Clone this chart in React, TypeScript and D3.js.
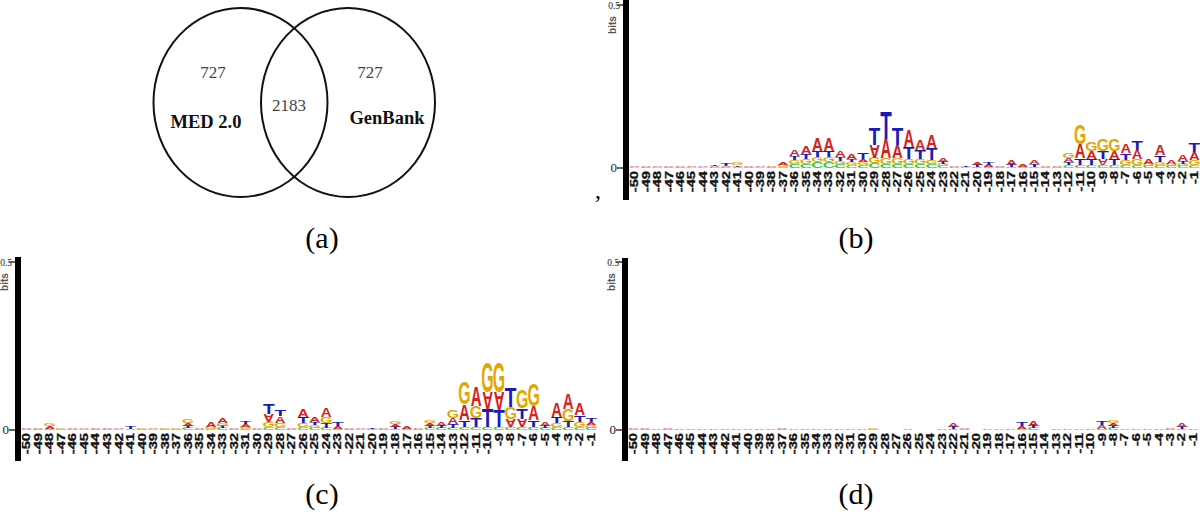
import React from 'react';
import * as d3 from 'd3';

// ---------- Venn data ----------
const VENN_SETS = ['MED 2.0', 'GenBank'];
const VENN_COUNTS = [727, 2183, 727]; // only-left, both, only-right

// ---------- Logo data ----------
const POSITIONS = [-50, -49, -48, -47, -46, -45, -44, -43, -42, -41, -40, -39, -38, -37, -36, -35, -34, -33, -32, -31, -30, -29, -28, -27, -26, -25, -24, -23, -22, -21, -20, -19, -18, -17, -16, -15, -14, -13, -12, -11, -10, -9, -8, -7, -6, -5, -4, -3, -2, -1];
const Y_TICKS = [0, 0.5];
const PANEL_LABELS = ['(a)', '(b)', '(c)', '(d)'];

// each entry: letters from bottom to top, value in millibits; lowercase = upside-down letter
const LOGO_B = [
  'G2 A3', 'C2 A3', 'G2 A3', 'C2 A2', 'C2 A2', 'G2 A3', 'G2 A4', 'C2 A3 T3', 'C2 A3 T9', 'A3 T5 G6',
  'C2 A3', 'G2 A3', 'C2 A2', 'C3 G6 A9', 'C12 G12 T12 A18', 'C12 G15 T15 A24', 'C18 G15 T18 A39', 'C18 G15 T18 A39', 'C12 G9 T12 A21', 'C9 G9 T9 A15',
  'C9 G9 A9 T18', 'C15 G18 a39 T54', 'C12 G18 A60 T84', 'C12 G18 A42 T54', 'C12 G15 T36 A51', 'C12 G15 T27 A33', 'C12 G12 T36 A39', 'C6 G6 T6 A12', 'C2 A3', 'G2 T3',
  'C3 T6 A9', 'C3 A6 T6', 'C2 A3', 'C3 T6 A15', 'C3 A9', 'C3 T9 A12', 'C3 A3', 'C3 A4', 'C9 T9 A12 G15', 'C9 T21 A45 G60',
  'C9 T18 A24 G30', 'C9 a18 T24 G36', 'C9 T18 A24 G36', 'C9 G15 T21 A27', 'C9 G18 A27 T30', 'C6 G6 A15', 'C9 G9 T21 A33', 'C6 G6 A12', 'C6 G6 T9 A18', 'C9 G15 A24 T30',
];

const LOGO_C = [
  'C2 A3', 'C2 A2', 'C3 A9 G9', 'C2 G3', 'C2 A2', 'G2 A3', 'C2 A2', 'C2 A2', 'G2 A3', 'A3 T6',
  'C2 G2', 'G2 A3', 'C2 G3', 'C2 G3', 'C6 T6 A9 G12', 'C2 A4', 'C3 G6 A15', 'C6 T6 G9 A15', 'C2 A4', 'C3 G6 A9 T9',
  'C2 A4', 'C9 G15 a24 T33', 'C9 G12 A21 T21', 'C2 A4', 'C9 G12 T18 A24', 'C6 G9 T9 A15', 'C6 T15 G18 A27', 'C3 A9 T12', 'C2 A2', 'G2 A2',
  'C2 T3', 'C2 A2', 'C3 T6 A9 G9', 'C3 A6', 'C2 A4', 'C6 T6 A9 G9', 'C6 T6 A12', 'C6 T12 A18 G24', 'C9 T21 A48 G66', 'C9 T27 G36 A57',
  'C9 T54 a51 G90', 'C9 T51 a54 G90', 'C9 a24 G36 T60', 'C9 a24 T33 G54', 'C9 T21 A42 G66', 'C6 T6 A12', 'C9 G12 T18 A42', 'C9 T18 G36 A48', 'C9 G15 T21 A36', 'C6 G9 A9 T12',
];

const LOGO_D = [
  'C2 A2', 'C2 A2', 'C1 A2', 'C2 A4', 'C1 A2', 'G1 A2', 'C1 A2', 'C1 A2', 'C1 A2', 'C1 A2',
  'C1 A2', 'G1 A2', 'C1 A2', 'C2 A3', 'C1 A2', 'C1 A2', 'C1 A2', 'C1 A2', 'C1 A2', 'C1 A2',
  'C1 A2', 'C2 G4', 'C1 A1', 'C1 A1', 'C1 A2', 'C1 A1', 'C1 A1', 'C1 A2', 'C3 T6 A12', 'C2 A3',
  'C1 A1', 'C1 A2', 'C1 A2', 'C1 A2', 'C3 A9 T12', 'C6 T6 A15', 'C1 A1', 'C1 A2', 'C1 A2', 'C1 A2',
  'C1 A2', 'C3 A12 T12', 'C6 T6 A9 G9', 'C1 A2', 'C1 A2', 'C1 A2', 'C1 A2', 'C2 A3', 'C3 T6 A12', 'C1 A2',
];

const COLORS: Record<string, string> = { A: '#d61f1f', C: '#33cc33', G: '#e0a800', T: '#1a1ab8' };
// ink metrics (Liberation Sans Bold, em units): left bearing and ink width
const METRICS: Record<string, { l: number; w: number }> = {
  A: { l: 0.0, w: 0.722 },
  C: { l: 0.05, w: 0.635 },
  G: { l: 0.05, w: 0.68 },
  T: { l: 0.02, w: 0.57 },
};
const CAP = 0.716;
const LOGO_FONT = '"Liberation Sans", Arial, sans-serif';

function parseCol(s: string) {
  return s.split(' ').map((tok) => {
    const c = tok[0];
    return { ch: c.toUpperCase(), inv: c !== c.toUpperCase(), v: +tok.slice(1) / 1000 };
  });
}

function Letter({ ch, x, w, y0, h, inv }: { ch: string; x: number; w: number; y0: number; h: number; inv: boolean }) {
  const m = METRICS[ch];
  const sx = w / (m.w * 100);
  const sy = h / (CAP * 100);
  const tx = x - m.l * 100 * sx;
  const transform = inv
    ? `translate(${tx},${y0 - h}) scale(${sx},${-sy})`
    : `translate(${tx},${y0}) scale(${sx},${sy})`;
  return (
    <text transform={transform} fontSize={100} fontFamily={LOGO_FONT} fontWeight="bold" fill={COLORS[ch]}>
      {ch}
    </text>
  );
}

function LogoPanel({ data, barX, barTop, barBottom, x1, yBase, yTop }: {
  data: string[]; barX: number; barTop: number; barBottom: number; x1: number; yBase: number; yTop: number;
}) {
  const barW = 6;
  const x = d3.scaleBand<string>().domain(POSITIONS.map(String)).range([barX + barW, x1]).paddingInner(0.06).paddingOuter(0.03);
  const y = d3.scaleLinear().domain([0, 0.5]).range([yBase, yTop]);
  return (
    <g>
      {POSITIONS.map((p, i) => {
        const col = parseCol(data[i]);
        let acc = 0;
        const xl = x(String(p))!;
        return (
          <g key={p}>
            {col.map((c, j) => {
              const yb = y(acc);
              acc += c.v;
              const yt = y(acc);
              return <Letter key={j} ch={c.ch} inv={c.inv} x={xl} w={x.bandwidth()} y0={yb} h={yb - yt} />;
            })}
          </g>
        );
      })}
      {POSITIONS.map((p) => (
        <text
          key={'l' + p}
          transform={`translate(${x(String(p))! + x.bandwidth() / 2 + 3.6},${yBase + 3}) rotate(-90) scale(1.4,1)`}
          textAnchor="end"
          fontSize={10.5}
          fontWeight="bold"
          fontFamily={LOGO_FONT}
          fill="#111"
          stroke="#111"
          strokeWidth={0.3}
        >
          {p}
        </text>
      ))}
      <rect x={barX} y={barTop} width={barW} height={barBottom - barTop} fill="#000" />
      {Y_TICKS.map((t) => (
        <g key={t}>
          <line x1={barX - 6} x2={barX} y1={y(t)} y2={y(t)} stroke="#000" strokeWidth={1.2} />
          <text x={barX - (t === 0 ? 6 : 3)} y={y(t) + 4} textAnchor="end" fontSize={t === 0 ? 13 : 9.5} fontFamily='"Liberation Serif", serif' fill="#222">
            {t === 0 ? '0' : '0.5'}
          </text>
        </g>
      ))}
      <text
        transform={`translate(${barX - 7},${yTop + 20}) rotate(-90)`}
        textAnchor="middle"
        fontSize={10}
        fontWeight="bold"
        fontFamily={LOGO_FONT}
        fill="#555"
      >
        bits
      </text>
    </g>
  );
}

function Venn() {
  const cx = d3.scaleOrdinal<string, number>().domain(VENN_SETS).range([240.5, 348]);
  const serif = '"Liberation Serif", "Times New Roman", serif';
  return (
    <g>
      {VENN_SETS.map((s) => (
        <ellipse key={s} cx={cx(s)} cy={102.5} rx={87} ry={94.5} fill="none" stroke="#111" strokeWidth={2} />
      ))}
      <text x={213} y={78} textAnchor="middle" fontSize={17} fontFamily={serif} fill="#444">{VENN_COUNTS[0]}</text>
      <text x={289} y={111} textAnchor="middle" fontSize={17} fontFamily={serif} fill="#444">{VENN_COUNTS[1]}</text>
      <text x={370} y={78} textAnchor="middle" fontSize={17} fontFamily={serif} fill="#444">{VENN_COUNTS[2]}</text>
      <text x={206} y={128} textAnchor="middle" fontSize={18.5} fontWeight="bold" fontFamily={serif} fill="#111">{VENN_SETS[0]}</text>
      <text x={387} y={124} textAnchor="middle" fontSize={18.5} fontWeight="bold" fontFamily={serif} fill="#111">{VENN_SETS[1]}</text>
    </g>
  );
}

export default function App() {
  const serif = '"Liberation Serif", "Times New Roman", serif';
  return (
    <svg width={1200} height={523} style={{ position: 'absolute', left: 0, top: 0, background: '#fff' }}>
      <rect width={1200} height={523} fill="#fff" />
      <Venn />
      <LogoPanel data={LOGO_B} barX={623} barTop={0} barBottom={200} x1={1200} yBase={168} yTop={5} />
      <LogoPanel data={LOGO_C} barX={15} barTop={257} barBottom={461} x1={597} yBase={430} yTop={262} />
      <LogoPanel data={LOGO_D} barX={622} barTop={258} barBottom={461} x1={1199} yBase={430} yTop={262} />
      <text x={595} y={198} fontSize={24} fontFamily={serif} fill="#000">,</text>
      <text x={322} y={248} textAnchor="middle" fontSize={30} fontFamily={serif} fill="#000">{PANEL_LABELS[0]}</text>
      <text x={856} y={248} textAnchor="middle" fontSize={30} fontFamily={serif} fill="#000">{PANEL_LABELS[1]}</text>
      <text x={322} y={504} textAnchor="middle" fontSize={30} fontFamily={serif} fill="#000">{PANEL_LABELS[2]}</text>
      <text x={856} y={504} textAnchor="middle" fontSize={30} fontFamily={serif} fill="#000">{PANEL_LABELS[3]}</text>
    </svg>
  );
}
